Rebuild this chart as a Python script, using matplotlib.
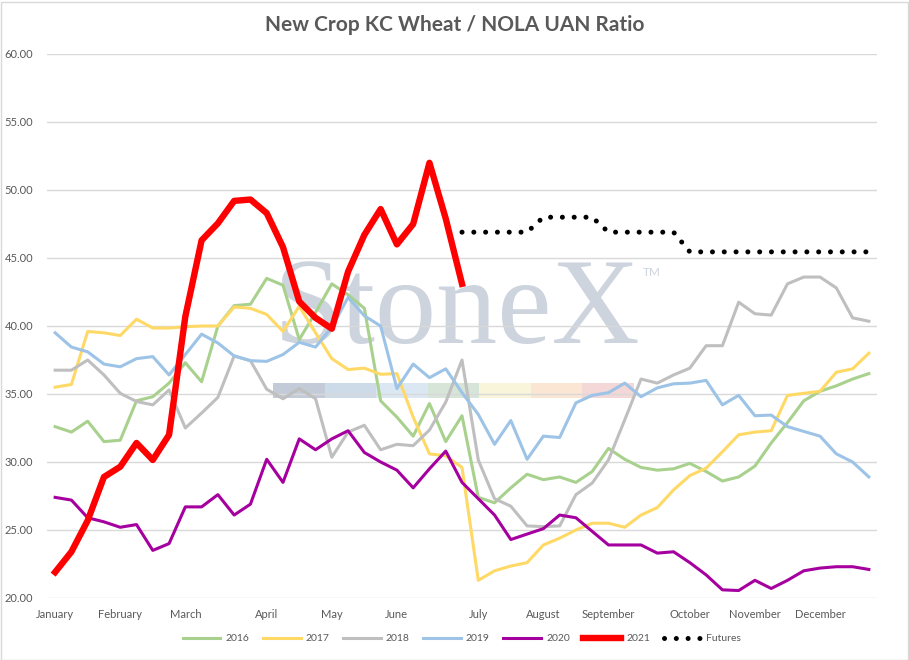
import numpy as np
import matplotlib
matplotlib.use("Agg")
import matplotlib.pyplot as plt
from matplotlib.patches import Rectangle

plt.rcParams['font.family'] = ['Lato', 'DejaVu Sans']

# weekly category labels (51 weeks), month names only on first week of month
months = ["January", "February", "March", "April", "May", "June", "July",
          "August", "September", "October", "November", "December"]
month_weeks = [0, 4, 8, 13, 17, 21, 26, 30, 34, 39, 43, 47]
week_labels = [""] * 51
for m, w in zip(months, month_weeks):
    week_labels[w] = m

y2016 = [32.6, 32.2, 33.0, 31.5, 31.6, 34.5, 34.8, 35.8, 37.3, 35.9, 40.0, 41.5, 41.6,
         43.5, 43.0, 39.0, 41.0, 43.1, 42.3, 41.3, 34.5, 33.3, 31.9, 34.3, 31.5, 33.4,
         27.4, 27.0, 28.1, 29.1, 28.7, 28.9, 28.5, 29.3, 31.0, 30.2, 29.6, 29.4, 29.5,
         29.9, 29.3, 28.6, 28.9, 29.7, 31.4, 32.9, 34.5, 35.2, 35.6, 36.1, 36.5]
y2017 = [35.5, 35.7, 39.6, 39.5, 39.3, 40.5, 39.85, 39.85, 39.95, 40.0, 40.0, 41.4, 41.3,
         40.85, 39.6, 41.45, 39.5, 37.6, 36.8, 36.9, 36.45, 36.5, 33.3, 30.6, 30.45, 29.6,
         21.3, 22.0, 22.35, 22.6, 23.9, 24.4, 25.0, 25.5, 25.5, 25.2, 26.1, 26.65, 27.95,
         29.0, 29.55, 30.75, 32.0, 32.2, 32.3, 34.9, 35.05, 35.2, 36.6, 36.85, 38.0]
y2018 = [36.75, 36.75, 37.5, 36.4, 35.05, 34.45, 34.2, 35.3, 32.5, 33.6, 34.75, 37.8, 37.45,
         35.35, 34.65, 35.4, 34.65, 30.35, 32.2, 32.7, 30.9, 31.3, 31.2, 32.35, 34.4, 37.5,
         30.15, 27.3, 26.75, 25.3, 25.25, 25.3, 27.6, 28.45, 30.15, 33.1, 36.1, 35.8, 36.4,
         36.9, 38.55, 38.55, 41.75, 40.9, 40.8, 43.1, 43.6, 43.6, 42.8, 40.6, 40.35]
y2019 = [39.5, 38.45, 38.1, 37.2, 37.0, 37.6, 37.75, 36.4, 37.9, 39.4, 38.75, 37.8, 37.45,
         37.4, 37.9, 38.8, 38.45, 39.9, 42.1, 40.75, 40.0, 35.4, 37.2, 36.2, 36.85, 35.1,
         33.5, 31.3, 33.05, 30.2, 31.9, 31.8, 34.35, 34.9, 35.1, 35.8, 34.8, 35.45, 35.75,
         35.8, 36.0, 34.2, 34.9, 33.4, 33.45, 32.6, 32.25, 31.9, 30.6, 30.0, 28.9]
y2020 = [27.4, 27.2, 25.9, 25.6, 25.2, 25.4, 23.5, 24.0, 26.7, 26.7, 27.6, 26.1, 26.9,
         30.2, 28.5, 31.7, 30.9, 31.7, 32.3, 30.7, 30.0, 29.4, 28.1, 29.5, 30.8, 28.5,
         27.3, 26.1, 24.3, 24.7, 25.1, 26.1, 25.9, 24.9, 23.9, 23.9, 23.9, 23.3, 23.4,
         22.6, 21.7, 20.6, 20.55, 21.3, 20.7, 21.3, 22.0, 22.2, 22.3, 22.3, 22.1]
y2021 = [21.9, 23.4, 25.7, 28.9, 29.65, 31.4, 30.15, 32.0, 40.7, 46.3, 47.55, 49.2, 49.3,
         48.3, 45.8, 41.8, 40.6, 39.8, 44.0, 46.7, 48.6, 46.0, 47.5, 52.0, 47.9, 43.1]
futures_start = 25
futures = [46.9, 46.9, 46.9, 46.9, 46.9, 48.0, 48.0, 48.0, 48.0, 46.9, 46.9, 46.9, 46.9,
           46.9, 45.45, 45.45, 45.45, 45.45, 45.45, 45.45, 45.45, 45.45, 45.45, 45.45,
           45.45, 45.45]

fig = plt.figure(figsize=(9.09, 6.6), dpi=100)
ax = fig.add_axes([47 / 909, 1 - 598 / 660, 830 / 909, 544 / 660])
ax.set_zorder(2)

txt = "#595959"

# StoneX watermark (behind the lines)
fig.text(274 / 909, 1 - 343 / 660, "StoneX", family="Liberation Serif", fontsize=88,
         color="#cdd4dd", zorder=-2)
fig.text(643 / 909, 1 - 276 / 660, "TM", fontsize=8.5, color="#cdd4dd", zorder=-2)
bar_cols = ["#bcc6d3", "#c8d6e6", "#d7e6f3", "#d2e3d3", "#f8f4d8", "#fae4cf", "#f3d3d3"]
for k, c in enumerate(bar_cols):
    fig.patches.append(Rectangle(((273 + 51.5 * k) / 909, 1 - 398 / 660), 51.5 / 909, 15.5 / 660,
                                 transform=fig.transFigure, facecolor=c, edgecolor="none",
                                 alpha=0.9, zorder=-2))

ax.set_facecolor("none")
weeks = np.arange(51)
lw = 2.2
ax.plot(weeks, y2016, color="#a9d18e", lw=lw, label="2016")
ax.plot(weeks, y2017, color="#ffd966", lw=lw, label="2017")
ax.plot(weeks, y2018, color="#bfbfbf", lw=lw, label="2018")
ax.plot(weeks, y2019, color="#9dc3e6", lw=lw, label="2019")
ax.plot(weeks, y2020, color="#a5009f", lw=lw, label="2020")
ax.plot(np.arange(len(y2021)), y2021, color="#ff0000", lw=4.6, label="2021",
        solid_joinstyle="round")
ax.plot(np.arange(futures_start, futures_start + len(futures)), futures, color="black",
        lw=3.6, linestyle=(0, (0.01, 2.35)), dash_capstyle="round", label="Futures")

ax.set_xlim(-0.5, 50.5)
ax.set_ylim(20, 60)
ax.set_yticks(np.arange(20, 61, 5))
ax.set_yticklabels([f"{v:.2f}" for v in np.arange(20, 61, 5)])
ax.set_xticks(weeks)
ax.set_xticklabels(week_labels)
ax.tick_params(axis="both", length=0, labelsize=8, colors=txt)
ax.tick_params(axis="y", pad=10)
ax.tick_params(axis="x", pad=8)
for s in ax.spines.values():
    s.set_visible(False)
ax.grid(axis="y", color="#d9d9d9", lw=1)
ax.set_axisbelow(True)

fig.suptitle("New Crop KC Wheat / NOLA UAN Ratio", y=1 - 25 / 660, va="center",
             fontsize=15, fontweight="bold", color=txt)

leg = ax.legend(loc="center", bbox_to_anchor=(0.5, -0.075), ncol=7, frameon=False,
                fontsize=7.5, handlelength=3.6, columnspacing=1.3, handletextpad=0.5)
for t in leg.get_texts():
    t.set_color(txt)

fig.patches.append(Rectangle((0.5 / 909, 0.5 / 660), 907 / 909, 658 / 660,
                             transform=fig.transFigure, fill=False, edgecolor="#d9d9d9", lw=1))

fig.savefig("out.png", dpi=100)
